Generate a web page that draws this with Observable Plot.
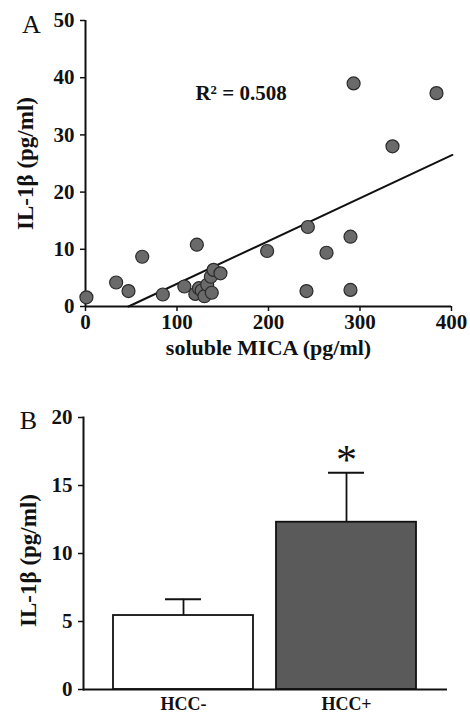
<!DOCTYPE html>
<html><head><meta charset="utf-8">
<script src="https://cdn.jsdelivr.net/npm/d3@7"></script>
<script src="https://cdn.jsdelivr.net/npm/@observablehq/plot@0.6"></script>
<style>body{margin:0;background:#fff} #c{width:470px} svg{display:block}</style>
</head><body><div id="c"></div>
<script>
// Panel A: soluble MICA vs IL-1β
const micaX = [1, 33.5, 47, 62, 84.5, 121.7, 108, 120, 124, 127, 130, 133, 138, 137, 140, 147.5, 198.5, 243, 241.5, 263.4, 289.6, 289.6, 293, 335.5, 383.6];
const il1bY = [1.6, 4.2, 2.7, 8.7, 2.1, 10.8, 3.5, 2.2, 3.2, 2.8, 1.8, 3.8, 2.4, 5.2, 6.4, 5.8, 9.7, 13.9, 2.7, 9.4, 12.2, 2.9, 39, 28, 37.3];
const fitX = [47, 401];
const fitY = [0, 26.5];
const r2Label = ["R\u00B2 = 0.508"];
const r2Pos = [{x: 170, y: 37.2}];
const xTicksA = [0, 100, 200, 300, 400];
const yTicksA = [0, 10, 20, 30, 40, 50];

// Panel B: IL-1β by group
const groups = ["HCC-", "HCC+"];
const means = [5.44, 12.3];
const upper = [6.64, 15.93];
const sigMark = ["", "*"];
const yTicksB = [0, 5, 10, 15, 20];
const barFill = ["#ffffff", "#5a5a5a"];

const font = {fontFamily: "'Liberation Serif', 'Times New Roman', serif", fontWeight: "bold", fontSize: "21px", color: "#111", background: "#fff"};

const pts = micaX.map((x, i) => ({x, y: il1bY[i]}));
const fit = fitX.map((x, i) => ({x, y: fitY[i]}));

const chartA = Plot.plot({
  width: 470, height: 362,
  marginLeft: 85, marginRight: 19, marginTop: 20, marginBottom: 56,
  style: font,
  x: {domain: [0, 400]},
  y: {domain: [0, 50]},
  marks: [
    Plot.axisY(yTicksA, {tickSize: 5, tickPadding: 6, label: null, stroke: "#111", strokeWidth: 1.5, fontSize: 21}),
    Plot.axisX(xTicksA, {tickSize: 5, tickPadding: 3, label: null, stroke: "#111", strokeWidth: 1.5, fontSize: 21}),
    Plot.ruleX([0], {stroke: "#111", strokeWidth: 2}),
    Plot.ruleY([0], {stroke: "#111", strokeWidth: 2}),
    Plot.line(fit, {x: "x", y: "y", stroke: "#111", strokeWidth: 2}),
    Plot.dot(pts, {x: "x", y: "y", r: 6.5, fill: "#6a6a6a", stroke: "#2a2a2a", strokeWidth: 1.2}),
    Plot.text(r2Pos, {x: "x", y: "y", text: () => r2Label[0], fontSize: 21, fill: "#111"}),
    Plot.text(["soluble MICA (pg/ml)"], {frameAnchor: "bottom", dy: 41, textAnchor: "middle", lineAnchor: "middle", fontSize: 22, fill: "#111"}),
    Plot.text(["IL-1\u03B2 (pg/ml)"], {frameAnchor: "left", dx: -60, textAnchor: "middle", lineAnchor: "middle", rotate: -90, fontSize: 23, fill: "#111"}),
    Plot.text(["A"], {frameAnchor: "top-left", dx: -54, dy: 4, textAnchor: "middle", lineAnchor: "middle", fontSize: 26, fill: "#111", fontWeight: "normal"})
  ]
});

const bars = groups.map((g, i) => ({g, mean: means[i], upper: upper[i], sig: sigMark[i], fill: barFill[i]}));

const chartB = Plot.plot({
  width: 470, height: 351,
  marginLeft: 83, marginRight: 23, marginTop: 55, marginBottom: 24,
  style: font,
  x: {domain: groups, paddingInner: 0.141, paddingOuter: 0.185},
  y: {domain: [0, 20]},
  marks: [
    Plot.axisY(yTicksB, {tickSize: 5, tickPadding: 6, label: null, stroke: "#111", strokeWidth: 1.5, fontSize: 21}),
    Plot.axisX({tickSize: 0, tickPadding: 8, label: null, fontSize: 18}),
    Plot.barY(bars, {x: "g", y: "mean", fill: "fill", stroke: "#111", strokeWidth: 1.8}),
    Plot.ruleX(bars, {x: "g", y1: "mean", y2: "upper", stroke: "#111", strokeWidth: 1.8}),
    Plot.tickY(bars, {x: "g", y: "upper", stroke: "#111", strokeWidth: 2, insetLeft: 52, insetRight: 52}),
    Plot.text(bars, {x: "g", y: "upper", text: "sig", dy: -12, fontSize: 42, fontWeight: "normal", fill: "#111", lineAnchor: "middle"}),
    Plot.frame({anchor: "left", stroke: "#111", strokeWidth: 2}),
    Plot.ruleY([0], {stroke: "#111", strokeWidth: 2}),
    Plot.text(["IL-1\u03B2 (pg/ml)"], {frameAnchor: "left", dx: -55, dy: 7, textAnchor: "middle", lineAnchor: "middle", rotate: -90, fontSize: 23, fill: "#111"}),
    Plot.text(["B"], {frameAnchor: "top-left", dx: -55, dy: 3, textAnchor: "middle", lineAnchor: "middle", fontSize: 26, fill: "#111", fontWeight: "normal"})
  ]
});

document.getElementById("c").append(chartA, chartB);
</script>
</body></html>
